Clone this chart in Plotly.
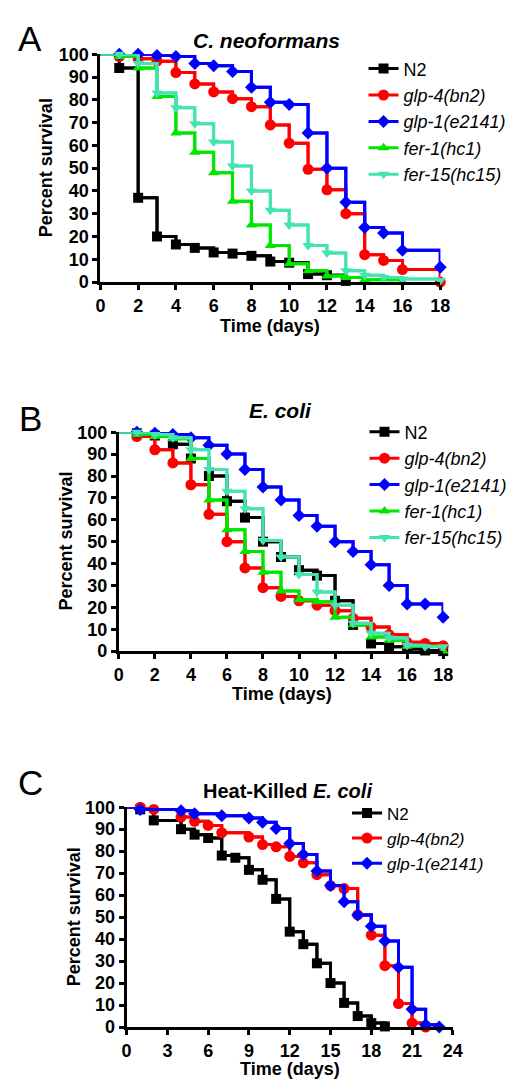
import plotly.graph_objects as go

W, H = 517, 1086
FONT = "Liberation Sans, Arial, sans-serif"

# ---------------- Panel A: C. neoformans ----------------
A_N2_days = [0, 1, 2, 3, 4, 5, 6, 7, 8, 9, 10, 11, 12, 13]
A_N2_vals = [100, 94, 37, 20, 16.5, 15, 13, 12.5, 11.5, 9, 8.5, 3.5, 3, 0.5]
A_glp4_days = [0, 1, 2, 3, 4, 5, 6, 7, 8, 9, 10, 11, 12, 13, 14, 15, 16, 18]
A_glp4_vals = [100, 99, 98, 97, 92, 87, 83.5, 80.5, 77, 69, 61, 49.5, 40.5, 30, 12, 9.5, 5.5, 0]
A_glp1_days = [0, 1, 2, 3, 4, 5, 6, 7, 8, 9, 10, 11, 12, 13, 14, 15, 16, 18]
A_glp1_vals = [100, 100, 100, 99.5, 99, 96, 95, 92.5, 85.5, 79, 78, 65.5, 50, 35, 24, 21.5, 14, 6.5]
A_fer1_days = [0, 1, 2, 3, 4, 5, 6, 7, 8, 9, 10, 11, 12, 13, 14, 16]
A_fer1_vals = [100, 99, 94, 81.5, 65.5, 57, 48, 35.5, 25, 16, 8, 5, 2.7, 2, 1, 0]
A_fer15_days = [0, 1, 2, 3, 4, 5, 6, 7, 8, 9, 10, 11, 12, 13, 14, 15, 16, 18]
A_fer15_vals = [100, 100, 96, 83, 76.5, 69.5, 61.5, 51, 40, 31.5, 25, 16, 12.8, 5, 3, 2, 1.3, 0.7]

# ---------------- Panel B: E. coli ----------------
B_N2_days = [0, 1, 2, 3, 4, 5, 6, 7, 8, 9, 10, 11, 12, 13, 14, 15, 16, 17, 18]
B_N2_vals = [100, 99.5, 98.5, 94.5, 88, 80, 68.5, 61, 50, 43, 37, 34.5, 23, 12, 3.5, 2, 1, 0.3, 0]
B_glp4_days = [0, 1, 2, 3, 4, 5, 6, 7, 8, 9, 10, 11, 12, 13, 14, 15, 16, 17, 18]
B_glp4_vals = [100, 98, 92, 86, 76, 62.5, 50, 38, 29, 25, 23, 21, 18.5, 15, 11, 7.5, 4, 3.5, 2.5]
B_glp1_days = [0, 1, 2, 3, 4, 5, 6, 7, 8, 9, 10, 11, 12, 13, 14, 15, 16, 17, 18]
B_glp1_vals = [100, 100, 99.5, 99, 97.5, 94, 90, 83, 75, 69, 62, 57, 50, 45.5, 39.5, 30, 21.5, 21.5, 15.5]
B_fer1_days = [0, 1, 2, 3, 4, 5, 6, 7, 8, 9, 10, 11, 12, 13, 14, 15, 16, 18]
B_fer1_vals = [100, 99, 98, 97, 88, 69, 55.5, 45.5, 36, 27.5, 23.5, 22.5, 15.5, 12, 6.5, 5, 2.2, 0]
B_fer15_days = [0, 1, 2, 3, 4, 5, 6, 7, 8, 9, 10, 11, 12, 13, 14, 15, 16, 17, 18]
B_fer15_vals = [100, 100, 99, 97.5, 92, 83, 73, 65, 50.5, 43, 35, 27, 21, 12.7, 8.2, 6, 2.7, 2, 2]

# ---------------- Panel C: Heat-Killed E. coli ----------------
C_N2_days = [0, 1, 2, 4, 5, 6, 7, 8, 9, 10, 11, 12, 13, 14, 15, 16, 17, 18, 19]
C_N2_vals = [100, 99, 94, 90, 87.5, 86, 78, 77, 71.5, 67, 58.3, 43.4, 37.7, 29, 20, 11, 5, 1.8, 0.3]
C_glp4_days = [0, 1, 2, 4, 5, 6, 7, 9, 10, 11, 12, 13, 14, 15, 16, 17, 18, 19, 20, 21, 22]
C_glp4_vals = [100, 100, 99, 95.5, 93.6, 91.7, 88.4, 86.4, 83, 82, 77.6, 74.7, 69.3, 64.3, 63, 51, 41.8, 27.9, 10.7, 1.8, 0]
C_glp1_days = [0, 1, 4, 5, 7, 9, 10, 11, 12, 13, 14, 15, 16, 17, 18, 19, 20, 21, 22, 23]
C_glp1_vals = [100, 99, 98.4, 97, 96.1, 95.1, 93.1, 90.3, 83.5, 78.5, 71, 64.4, 57, 51, 45.8, 39.1, 27.2, 8.1, 1, 0]

NAMES = ["N2", "<i>glp-4(bn2)</i>", "<i>glp-1(e2141)</i>", "<i>fer-1(hc1)</i>", "<i>fer-15(hc15)</i>"]
COLORS = ["#000000", "#FF0000", "#0000FF", "#00E600", "#45E3B3"]
SYMBOLS = ["square", "circle", "diamond", "triangle-up", "triangle-down"]
SIZES = [10, 11, 10, 10, 10]

fig = go.Figure()


def add_series(days, vals, k, xa, ya, leg):
    fig.add_trace(go.Scatter(
        x=days, y=vals, mode="lines", xaxis=xa, yaxis=ya,
        line=dict(color=COLORS[k], width=3, shape="hv"),
        showlegend=False, cliponaxis=False, hoverinfo="skip"))
    fig.add_trace(go.Scatter(
        x=days[1:], y=vals[1:], mode="lines+markers", xaxis=xa, yaxis=ya,
        name=NAMES[k], legend=leg,
        line=dict(color=COLORS[k], width=3, shape="hv"),
        marker=dict(symbol=SYMBOLS[k], size=SIZES[k], color=COLORS[k]),
        cliponaxis=False))


panelA = [(A_N2_days, A_N2_vals), (A_glp4_days, A_glp4_vals), (A_glp1_days, A_glp1_vals),
          (A_fer1_days, A_fer1_vals), (A_fer15_days, A_fer15_vals)]
panelB = [(B_N2_days, B_N2_vals), (B_glp4_days, B_glp4_vals), (B_glp1_days, B_glp1_vals),
          (B_fer1_days, B_fer1_vals), (B_fer15_days, B_fer15_vals)]
panelC = [(C_N2_days, C_N2_vals), (C_glp4_days, C_glp4_vals), (C_glp1_days, C_glp1_vals)]

for k, (d, v) in enumerate(panelA):
    add_series(d, v, k, "x", "y", "legend")
for k, (d, v) in enumerate(panelB):
    add_series(d, v, k, "x2", "y2", "legend2")
for k, (d, v) in enumerate(panelC):
    add_series(d, v, k, "x3", "y3", "legend3")


def px_x(p):
    return p / W


def px_y(p):
    return 1 - p / H


tickfont = dict(family=FONT, size=18, color="black", weight="bold")
axis_common = dict(showline=True, linecolor="black", linewidth=3, ticks="outside",
                   ticklen=5, tickwidth=3, tickcolor="black", showgrid=False,
                   zeroline=False, tickfont=tickfont, fixedrange=True)

fig.update_layout(
    width=W, height=H, margin=dict(l=0, r=0, t=0, b=0),
    paper_bgcolor="white", plot_bgcolor="white",
    font=dict(family=FONT, color="black"),
    xaxis=dict(axis_common, domain=[px_x(90), px_x(440)], range=[0, 18], dtick=2, anchor="y"),
    yaxis=dict(axis_common, domain=[px_y(269), px_y(37)], range=[0, 100], dtick=10, anchor="x"),
    xaxis2=dict(axis_common, domain=[px_x(109), px_x(443)], range=[0, 18], dtick=2, anchor="y2"),
    yaxis2=dict(axis_common, domain=[px_y(645), px_y(422)], range=[0, 100], dtick=10, anchor="x2"),
    xaxis3=dict(axis_common, domain=[px_x(117), px_x(453)], range=[0, 24], dtick=3, anchor="y3"),
    yaxis3=dict(axis_common, domain=[px_y(1028), px_y(804)], range=[0, 100], dtick=10, anchor="x3"),
    legend=dict(x=px_x(361), y=px_y(33), xanchor="left", yanchor="top",
                font=dict(family=FONT, size=18, color="black"), bgcolor="rgba(0,0,0,0)"),
    legend2=dict(x=px_x(362), y=px_y(403), xanchor="left", yanchor="top",
                 font=dict(family=FONT, size=18, color="black"), bgcolor="rgba(0,0,0,0)"),
    legend3=dict(x=px_x(344), y=px_y(792), xanchor="left", yanchor="top",
                 font=dict(family=FONT, size=17, color="black"), bgcolor="rgba(0,0,0,0)"),
)

ann = []


def add_text(text, xp, yp, size, bold=True, angle=0):
    ann.append(dict(text=text, x=px_x(xp), y=px_y(yp), xref="paper", yref="paper",
                    showarrow=False, xanchor="center", yanchor="middle", textangle=angle,
                    font=dict(family=FONT, size=size, color="black",
                              weight="bold" if bold else "normal")))


add_text("<i>C. neoformans</i>", 261, 23, 21)
add_text("<i>E. coli</i>", 275, 400, 21)
add_text("Heat-Killed <i>E. coli</i>", 283, 787, 20)
add_text("A", 18, 21, 35, bold=False)
add_text("B", 18, 408, 35, bold=False)
add_text("C", 18, 779, 35, bold=False)
add_text("Percent survival", 34, 153, 18, angle=-90)
add_text("Percent survival", 55, 533, 18, angle=-90)
add_text("Percent survival", 63, 916, 18, angle=-90)
add_text("Time (days)", 265, 314, 18)
add_text("Time (days)", 277, 689, 18)
add_text("Time (days)", 285, 1071, 18)

fig.update_layout(annotations=ann)
fig.write_html("out.html")
